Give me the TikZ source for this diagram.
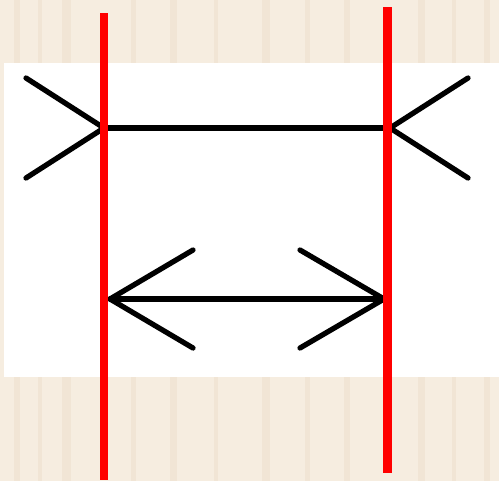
\documentclass[tikz,border=0pt]{standalone}
\usepackage{tikz}
\usetikzlibrary{calc}
\definecolor{wood}{HTML}{F6EDE0}
\definecolor{woodgrain}{HTML}{EEDFCB}
\definecolor{guide}{HTML}{FF0000}

\begin{document}
\begin{tikzpicture}[x=0.02cm, y=-0.02cm, line cap=round, line join=round,
  fin/.style={black, line width=3pt},
  shaft/.style={black, line width=3pt},
  guideline/.style={guide, line width=4.6pt, line cap=butt}]

% ==================================================== wooden backdrop
\fill[wood] (0,0) rectangle (499,481);
\foreach \x/\w in {14/6, 38/4, 62/9, 131/5, 170/7, 214/4, 262/8, 305/5, 344/6, 418/7, 452/4, 484/6}
  \fill[woodgrain, opacity=0.5] (\x,0) rectangle (\x+\w,481);
\useasboundingbox (0,0) rectangle (499,481);
\fill[white] (4,63) rectangle (499,377);

% ==================================================== upper figure: fins out
\coordinate (ul) at (104,128);
\coordinate (ur) at (390,128);
\coordinate (ulA) at (26,78);
\coordinate (ulB) at (26,178);
\coordinate (urA) at (468,78);
\coordinate (urB) at (468,178);
\draw[shaft] (ul) -- (ur);
\draw[fin] (ulA) -- (ul) -- (ulB);
\draw[fin] (urA) -- (ur) -- (urB);

% ==================================================== lower figure: arrowheads
\coordinate (ll) at (110,299);
\coordinate (lr) at (384,299);
\coordinate (llA) at (193,250);
\coordinate (llB) at (193,348);
\coordinate (lrA) at (300,250);
\coordinate (lrB) at (300,348);
\draw[shaft] (ll) -- (lr);
\draw[fin] (llA) -- (ll) -- (llB);
\draw[fin] (lrA) -- (lr) -- (lrB);

% ==================================================== red guides
\coordinate (gLt) at (104,13);
\coordinate (gLb) at (104,480);
\coordinate (gRt) at (387.5,7);
\coordinate (gRb) at (387.5,473);
\draw[guideline] (gLt) -- (gLb);
\draw[guideline] (gRt) -- (gRb);

\end{tikzpicture}
\end{document}
